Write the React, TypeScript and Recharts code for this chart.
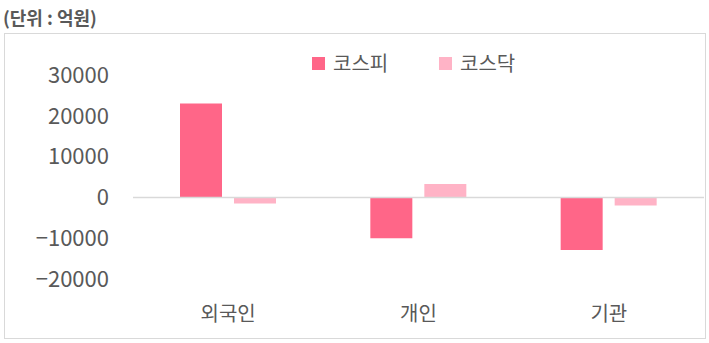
import React from 'react';
import { BarChart, Bar, XAxis, YAxis, ReferenceLine } from 'recharts';

const categories = ['외국인', '개인', '기관'];
const kospi = [23000, -10000, -12900];
const kosdaq = [-1500, 3300, -2000];
const yTicks = [-20000, -10000, 0, 10000, 20000, 30000];

const KOSPI_COLOR = '#ff6688';
const KOSDAQ_COLOR = '#ffb3c6';
const TEXT = '#595959';
const FONT = '"Noto Sans CJK KR", "Noto Sans", sans-serif';

const data = categories.map((name, i) => ({
  name,
  kospi: kospi[i],
  kosdaq: kosdaq[i],
}));

const fmt = (v: number) => (v < 0 ? '−' + Math.abs(v) : String(v));

const LegendItem = ({ color, label, left }: { color: string; label: string; left: number }) => (
  <div style={{ position: 'absolute', left, top: 50, display: 'flex', alignItems: 'center', height: 26 }}>
    <span style={{ width: 13, height: 13, background: color, display: 'inline-block', marginRight: 8 }} />
    <span style={{ fontSize: 20, color: TEXT, lineHeight: '26px' }}>{label}</span>
  </div>
);

const App = () => {
  return (
    <div style={{ position: 'absolute', left: 0, top: 0, width: 709, height: 343, background: '#fff', fontFamily: FONT }}>
      <div style={{ position: 'absolute', left: 3, top: 4, fontSize: 18, fontWeight: 600, color: TEXT }}>
        (단위 : 억원)
      </div>
      <div
        style={{
          position: 'absolute',
          left: 4,
          top: 33,
          width: 702,
          height: 306,
          border: '1px solid #d9d9d9',
          boxSizing: 'border-box',
        }}
      />
      <div style={{ position: 'absolute', left: 5, top: 34 }}>
        <BarChart
          width={700}
          height={305}
          data={data}
          margin={{ top: 41, right: 1, bottom: 0, left: 0 }}
          barSize={42}
          barGap={12}
        >
          <XAxis
            dataKey="name"
            axisLine={false}
            tickLine={false}
            tickSize={0}
            tickMargin={28}
            height={60}
            tick={{ fill: TEXT, fontSize: 20, fontFamily: FONT }}
          />
          <YAxis
            domain={[-20000, 30000]}
            ticks={yTicks}
            interval={0}
            axisLine={false}
            tickLine={false}
            tickSize={0}
            tickMargin={24}
            width={128}
            tickFormatter={fmt}
            tick={{ fill: TEXT, fontSize: 22, fontFamily: FONT }}
          />
          <ReferenceLine y={0} stroke="#d9d9d9" strokeWidth={1.5} />
          <Bar dataKey="kospi" name="코스피" fill={KOSPI_COLOR} isAnimationActive={false} />
          <Bar dataKey="kosdaq" name="코스닥" fill={KOSDAQ_COLOR} isAnimationActive={false} />
        </BarChart>
      </div>
      <LegendItem color={KOSPI_COLOR} label="코스피" left={312} />
      <LegendItem color={KOSDAQ_COLOR} label="코스닥" left={439} />
    </div>
  );
};

export default App;
